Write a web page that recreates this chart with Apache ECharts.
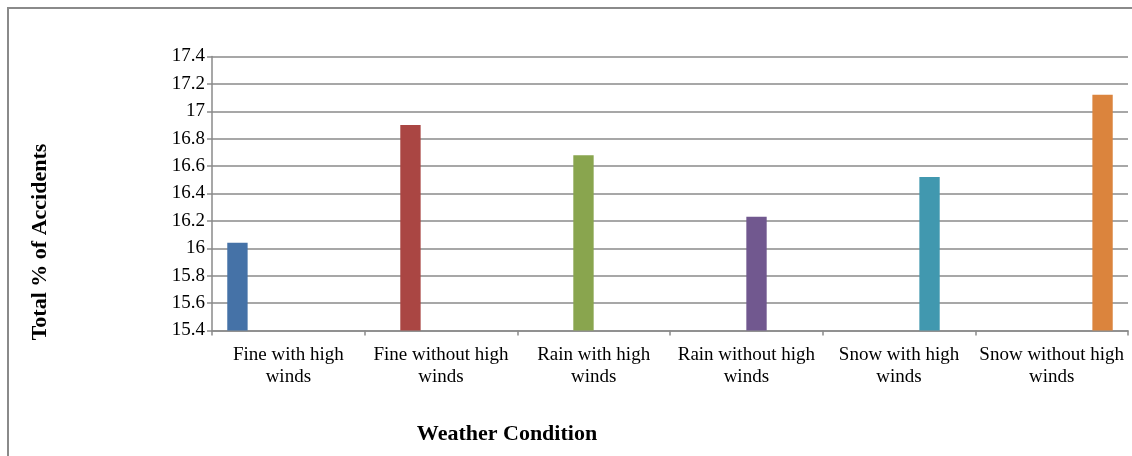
<!DOCTYPE html>
<html>
<head>
<meta charset="utf-8">
<title>Total % of Accidents by Weather Condition</title>
<script src="https://cdn.jsdelivr.net/npm/echarts@6/dist/echarts.min.js"></script>
<style>
  html, body { margin: 0; padding: 0; background: #ffffff; }
  #chart { width: 1132px; height: 456px; }
</style>
</head>
<body>
<div id="chart"></div>
<script>
// Weather conditions on the category axis
const categories = [
  'Fine with high winds',
  'Fine without high winds',
  'Rain with high winds',
  'Rain without high winds',
  'Snow with high winds',
  'Snow without high winds'
];

// Total % of accidents for each condition
const accidentShare = [16.04, 16.90, 16.68, 16.23, 16.52, 17.12];

// Value axis range
const yMin = 15.4;
const yMax = 17.4;
const yStep = 0.2;

const palette = ['#4572A7', '#AA4643', '#89A54E', '#71588F', '#4198AF', '#DB843D'];
const serif = '"Liberation Serif", "DejaVu Serif", serif';
const gray = '#8a8a8a';

// One series per condition, so each bar keeps its own slot within the group
const series = categories.map((name, i) => ({
  name: name,
  type: 'bar',
  barGap: '0%',
  barCategoryGap: '20%',
  itemStyle: { color: palette[i] },
  data: categories.map((_, j) => (j === i ? accidentShare[i] : '-'))
}));

const chart = echarts.init(document.getElementById('chart'), null, { renderer: 'canvas' });

chart.setOption({
  animation: false,
  backgroundColor: '#ffffff',
  grid: { left: 212, right: 4, top: 56.5, bottom: 125.5, containLabel: false },
  xAxis: {
    type: 'category',
    data: categories,
    boundaryGap: true,
    axisLine: { show: true, lineStyle: { color: gray, width: 1.5 } },
    axisTick: { show: true, length: 5, interval: 0, lineStyle: { color: gray, width: 1.5 } },
    axisLabel: {
      interval: 0,
      margin: 14,
      color: '#000000',
      fontFamily: serif,
      fontSize: 19,
      lineHeight: 22,
      align: 'center',
      formatter: v => v.replace(/ winds$/, '\nwinds')
    }
  },
  yAxis: {
    type: 'value',
    min: yMin,
    max: yMax,
    interval: yStep,
    axisLine: { show: true, lineStyle: { color: gray, width: 1.5 } },
    axisTick: { show: true, length: 5, lineStyle: { color: gray, width: 1.5 } },
    splitLine: { show: true, lineStyle: { color: gray, width: 1.5 } },
    axisLabel: {
      margin: 7,
      color: '#000000',
      fontFamily: serif,
      fontSize: 19
    }
  },
  series: series,
  graphic: [
    {
      // chart frame
      type: 'rect',
      x: 0,
      y: 0,
      shape: { x: 8, y: 8, width: 1200, height: 500 },
      style: { fill: 'none', stroke: gray, lineWidth: 2 },
      silent: true,
      z: -1
    },
    {
      type: 'text',
      x: 507,
      y: 434,
      style: {
        text: 'Weather Condition',
        font: 'bold 22px ' + serif,
        fill: '#000000',
        align: 'center',
        verticalAlign: 'middle'
      }
    },
    {
      type: 'text',
      x: 40,
      y: 242,
      rotation: Math.PI / 2,
      style: {
        text: 'Total % of Accidents',
        font: 'bold 22px ' + serif,
        fill: '#000000',
        align: 'center',
        verticalAlign: 'middle'
      }
    }
  ]
});
</script>
</body>
</html>
